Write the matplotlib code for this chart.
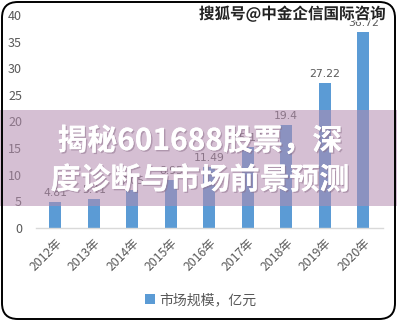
import matplotlib
matplotlib.use("Agg")
import matplotlib.pyplot as plt
from matplotlib.patches import Rectangle, FancyBboxPatch
import matplotlib.patheffects as pe

plt.rcParams['font.family'] = ['Noto Sans CJK SC', 'DejaVu Sans']

years = ["2012年", "2013年", "2014年", "2015年", "2016年", "2017年", "2018年", "2019年", "2020年"]
values = [4.81, 5.41, 7.05, 8.95, 11.49, 15.12, 19.4, 27.22, 36.72]
value_labels = ["4.81", "5.41", "7.05", "8.95", "11.49", "15.12", "19.4", "27.22", "36.72"]
yticks = [0, 5, 10, 15, 20, 25, 30, 35, 40]
legend_label = "市场规模，亿元"
overlay_title = ["揭秘601688股票，深", "度诊断与市场前景预测"]
watermark = "搜狐号@中金企信国际咨询"

W, H = 397, 321
fig = plt.figure(figsize=(W / 100, H / 100), dpi=100)
fig.patch.set_facecolor("white")

ax = fig.add_axes([36 / W, 1 - 228 / H, 346.5 / W, 213 / H])
x = list(range(len(years)))
bars = ax.bar(x, values, width=0.31, color="#5B9BD5", zorder=2)
for xi, v, lab in zip(x, values, value_labels):
    ax.annotate(lab, (xi, v), xytext=(0, 3), textcoords="offset points",
                ha="center", va="bottom", fontsize=7.8, color="#595959",
                family=["DejaVu Sans"])
ax.set_xlim(-0.5, len(years) - 0.5)
ax.set_ylim(0, 40)
ax.set_yticks(yticks)
ax.set_yticklabels([str(t) for t in yticks], fontsize=9, color="#595959")
ax.set_xticks(x)
ax.set_xticklabels(years, rotation=45, ha="right", rotation_mode="anchor",
                   fontsize=8.8, color="#595959")
ax.tick_params(axis="both", length=0)
ax.tick_params(axis="y", pad=10)
ax.tick_params(axis="x", pad=6)
for s in ["top", "right", "left"]:
    ax.spines[s].set_visible(False)
ax.spines["bottom"].set_color("#D9D9D9")
ax.spines["bottom"].set_linewidth(1)

leg = ax.legend([bars], [legend_label], loc="center",
                bbox_to_anchor=((201 - 36) / 346.5, (228 - 300) / 213),
                frameon=False, fontsize=10, handlelength=0.7, handleheight=0.7,
                handletextpad=0.3, labelcolor="#595959")

# translucent band overlay
band = Rectangle((0, 1 - 206 / H), 1, 96 / H, transform=fig.transFigure,
                 facecolor=(180 / 255, 140 / 255, 175 / 255), alpha=0.55,
                 edgecolor="none", zorder=5)
fig.patches.append(band)

shadow = [pe.withSimplePatchShadow(offset=(1, -1), shadow_rgbFace="#8a6f88", alpha=0.5), pe.Normal()]
fig.text(200 / W, 1 - 141 / H, overlay_title[0], ha="center", va="center",
         fontsize=21.5, fontweight="heavy", color="white", zorder=10, path_effects=shadow)
fig.text(200 / W, 1 - 180 / H, overlay_title[1], ha="center", va="center",
         fontsize=21.5, fontweight="heavy", color="white", zorder=10, path_effects=shadow)

fig.text(292 / W, 1 - 14 / H, watermark, ha="center", va="center", fontsize=11.2,
         fontweight="bold", color="#222222", zorder=10,
         path_effects=[pe.withStroke(linewidth=2.5, foreground="white")])

frame = FancyBboxPatch((2 / W, 2 / H), (W - 4) / W, (H - 4) / H,
                       boxstyle="round,pad=0,rounding_size=0.04",
                       transform=fig.transFigure, facecolor="none",
                       edgecolor="black", linewidth=1.4, zorder=20,
                       mutation_aspect=W / H)
fig.patches.append(frame)

fig.savefig("out.png", dpi=100)
